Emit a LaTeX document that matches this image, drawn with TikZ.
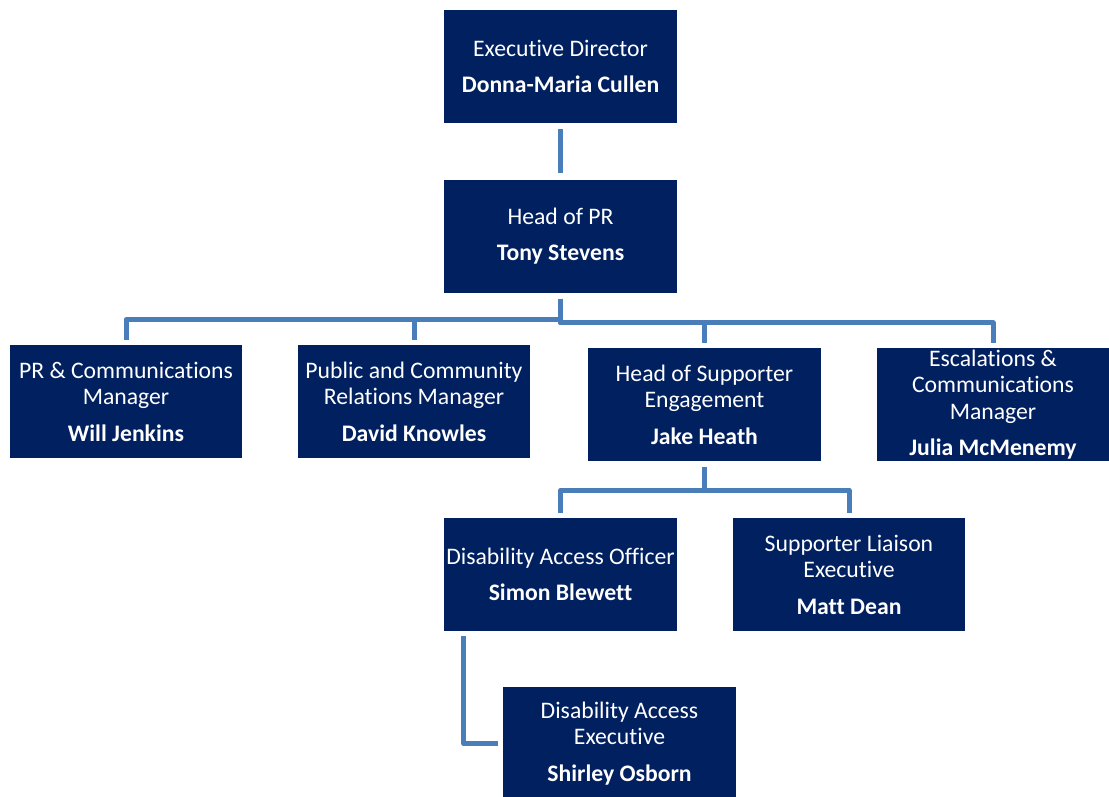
\documentclass[tikz,border=0pt]{standalone}
\usepackage{fontspec}
\setmainfont{Carlito}[Ligatures=NoCommon]
\usepackage{xcolor}
\usetikzlibrary{calc}
\definecolor{navy}{HTML}{002060}
\definecolor{linkblue}{HTML}{4A7EBB}
\tikzset{
  staffbox/.style={fill=navy,text=white,inner sep=0pt,align=center,
    minimum width=233pt,minimum height=113pt,
    font=\fontsize{23.7}{26.5}\selectfont},
  link/.style={draw=linkblue,line width=5pt,line join=round}
}
\begin{document}
\begin{tikzpicture}[x=1pt,y=-1pt]
                % fix the page
                \useasboundingbox (0,0) rectangle (1109,796);
                % draw boxes
                \node[staffbox] (ed) at (560.5,66.5) {Executive Director\\[10pt]\textbf{Donna-Maria Cullen}};
                \node[staffbox] (hp) at (560.5,236) {Head of PR\\[10pt]\textbf{Tony Stevens}};
                \node[staffbox,minimum width=232pt] (pcm) at (126,401.5) {PR \& Communications\\Manager\\[10pt]\textbf{Will Jenkins}};
                \node[staffbox,minimum width=232pt] (pub) at (414,401.5) {Public and Community\\Relations Manager\\[10pt]\textbf{David Knowles}};
                \node[staffbox] (hse) at (704.5,404.5) {Head of Supporter\\Engagement\\[10pt]\textbf{Jake Heath}};
                \node[staffbox,minimum width=232pt] (esc) at (993,404.5) {Escalations \&\\Communications\\Manager\\[10pt]\textbf{Julia McMenemy}};
                \node[staffbox] (dao) at (560.5,574.5) {Disability Access Officer\\[10pt]\textbf{Simon Blewett}};
                \node[staffbox,minimum width=232pt] (sle) at (849,574.5) {Supporter Liaison\\Executive\\[10pt]\textbf{Matt Dean}};
                \node[staffbox] (dae) at (619.5,743.5) {Disability Access\\Executive\\[10pt]\textbf{Shirley Osborn}};
                % draw connectors
                \draw[link] ([yshift=-6pt]ed.south) -- ([yshift=6pt]hp.north);
                \foreach \child in {pcm,pub}
                \draw[link] ([yshift=-6pt]hp.south) -- ++(0,21) -| ([yshift=5pt]\child.north);
                \foreach \child in {hse,esc}
                \draw[link] ([yshift=-6pt]hp.south) -- ++(0,24) -| ([yshift=5pt]\child.north);
                \foreach \child in {dao,sle}
                \draw[link] ([yshift=-6pt]hse.south) -- ++(0,23) -| ([yshift=5pt]\child.north);
                \draw[link] ([xshift=20pt,yshift=-5pt]dao.south west) |- ([xshift=-5pt]dae.west);
                \end{tikzpicture}
\end{document}
